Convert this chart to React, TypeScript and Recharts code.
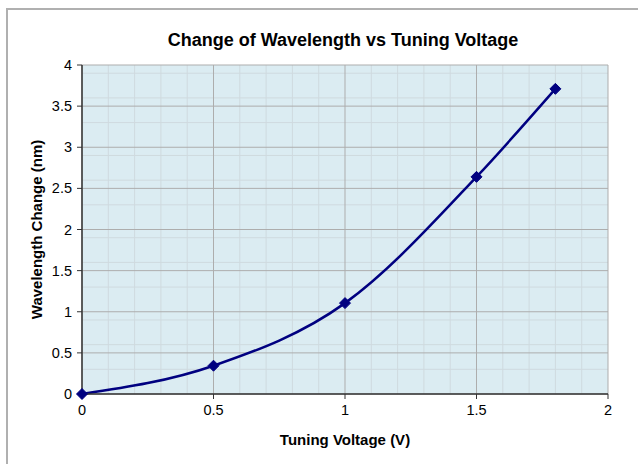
import { LineChart, Line, XAxis, YAxis, CartesianGrid, Label } from 'recharts';

const voltages = [0, 0.5, 1, 1.5, 1.8];
const wavelengthChange = [0, 0.344, 1.105, 2.64, 3.71];

const xTicks = [0, 0.5, 1, 1.5, 2];
const yTicks = [0, 0.5, 1, 1.5, 2, 2.5, 3, 3.5, 4];
const xMinor = [0.1, 0.2, 0.3, 0.4, 0.6, 0.7, 0.8, 0.9, 1.1, 1.2, 1.3, 1.4, 1.6, 1.7, 1.8, 1.9];
const yMinor = [
  0.1, 0.2, 0.3, 0.4, 0.6, 0.7, 0.8, 0.9, 1.1, 1.2, 1.3, 1.4, 1.6, 1.7, 1.8, 1.9,
  2.1, 2.2, 2.3, 2.4, 2.6, 2.7, 2.8, 2.9, 3.1, 3.2, 3.3, 3.4, 3.6, 3.7, 3.8, 3.9,
];

const data = voltages.map((v, i) => ({ v, d: wavelengthChange[i] }));

const FONT = '"Liberation Sans", Arial, sans-serif';

function Diamond(props: any) {
  const { cx, cy } = props;
  if (cx == null || cy == null) return null;
  const r = 5.5;
  return (
    <polygon
      points={`${cx},${cy - r} ${cx + r},${cy} ${cx},${cy + r} ${cx - r},${cy}`}
      fill="#000080"
      stroke="#000080"
    />
  );
}

function XTick(props: any) {
  const { x, y, payload } = props;
  return (
    <text x={x} y={y + 16} textAnchor="middle" fontSize={14.5} fontFamily={FONT} fill="#000">
      {payload.value}
    </text>
  );
}

function YTick(props: any) {
  const { x, y, payload } = props;
  return (
    <text x={x - 5} y={y + 5} textAnchor="end" fontSize={14.5} fontFamily={FONT} fill="#000">
      {payload.value}
    </text>
  );
}

export default function App() {
  return (
    <div style={{ position: 'absolute', left: 0, top: 0, width: 638, height: 464, background: '#fff', overflow: 'hidden', fontFamily: FONT }}>
      <div style={{ position: 'absolute', left: 6, top: 8, width: 660, height: 480, border: '2px solid #b0b0b0' }} />
      <div style={{ position: 'absolute', left: 0, top: 30, width: 686, textAlign: 'center', fontSize: 18, fontWeight: 'bold', color: '#000' }}>
        Change of Wavelength vs Tuning Voltage
      </div>
      <div style={{ position: 'absolute', left: 0, top: 0 }}>
        <LineChart width={638} height={464} data={data} margin={{ top: 65, right: 30, bottom: 20, left: 32 }}>
          <CartesianGrid
            fill="#dbecf2"
            stroke="#cfdadf"
            strokeWidth={1}
            horizontalValues={yMinor}
            verticalValues={xMinor}
          />
          <CartesianGrid
            stroke="#adadad"
            strokeWidth={1}
            horizontalValues={yTicks}
            verticalValues={xTicks}
          />
          <XAxis
            dataKey="v"
            type="number"
            domain={[0, 2]}
            ticks={xTicks}
            height={50}
            axisLine={{ stroke: '#333', strokeWidth: 1.5 }}
            tickLine={{ stroke: '#333' }}
            tickSize={5}
            tick={<XTick />}
            tickMargin={0}
          >
            <Label value="Tuning Voltage (V)" position="insideBottom" offset={-1} style={{ fill: '#000', fontSize: 15, fontWeight: 'bold', fontFamily: FONT }} />
          </XAxis>
          <YAxis
            type="number"
            domain={[0, 4]}
            ticks={yTicks}
            width={50}
            axisLine={{ stroke: '#333', strokeWidth: 1.5 }}
            tickLine={{ stroke: '#333' }}
            tickSize={5}
            tick={<YTick />}
            tickMargin={0}
          >
            <Label value="Wavelength Change (nm)" angle={-90} position="insideLeft" offset={5} style={{ textAnchor: 'middle', fill: '#000', fontSize: 15, fontWeight: 'bold', fontFamily: FONT }} />
          </YAxis>
          <Line
            type="monotone"
            dataKey="d"
            stroke="#000080"
            strokeWidth={2.5}
            dot={<Diamond />}
            activeDot={false}
            isAnimationActive={false}
          />
        </LineChart>
      </div>
    </div>
  );
}
